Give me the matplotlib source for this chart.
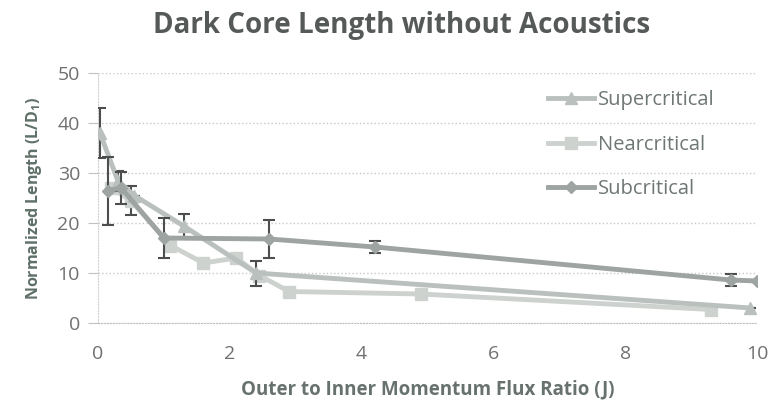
import matplotlib
matplotlib.use("Agg")
import matplotlib.pyplot as plt
from matplotlib.lines import Line2D

plt.rcParams['font.family'] = ['Open Sans', 'DejaVu Sans']

# data
super_x = [0.03, 0.3, 0.55, 1.3, 2.4, 9.9]
super_y = [38.0, 28.5, 25.5, 19.4, 10.0, 3.0]
super_err = [5.0, 2.0, 0, 2.5, 2.5, 0]

near_x = [0.2, 0.5, 1.1, 1.6, 2.1, 2.45, 2.9, 4.9, 9.3]
near_y = [27.0, 24.5, 15.5, 12.0, 13.0, 9.5, 6.3, 5.8, 2.7]
near_err = [0, 2.9, 0, 0, 0, 0, 0, 0, 0]

sub_x = [0.15, 0.35, 1.0, 2.6, 4.2, 9.6, 10.0]
sub_y = [26.5, 27.0, 17.0, 16.8, 15.2, 8.6, 8.4]
sub_err = [6.8, 3.2, 4.0, 3.8, 1.2, 1.2, 0]

names = ['Supercritical', 'Nearcritical', 'Subcritical']
colors = ['#b9c0bd', '#cdd2cf', '#9da4a1']
markers = ['^', 's', 'D']
msizes = [9, 9, 6]

xticks = [0, 2, 4, 6, 8, 10]
yticks = [0, 10, 20, 30, 40, 50]

fig = plt.figure(figsize=(7.71, 4.09), dpi=100)
ax = fig.add_axes([98/771, 1-323/409, 659/771, 250/409])

series = [(super_x, super_y, super_err), (near_x, near_y, near_err), (sub_x, sub_y, sub_err)]
zs = [3, 2, 4]
for (x, y, e), c, m, ms, z in zip(series, colors, markers, msizes, zs):
    ax.errorbar(x, y, yerr=e, color=c, lw=3.5, marker=m, ms=ms,
                ecolor='#4d4f4e', elinewidth=1.5, capsize=4, capthick=1.5, zorder=z)

ax.set_xlim(0, 10)
ax.set_ylim(0, 50)
ax.set_xticks(xticks)
ax.set_yticks(yticks)
ax.grid(axis='y', color='#c8c8c8', linestyle=':', lw=1)
for s in ['top', 'right']:
    ax.spines[s].set_visible(False)
ax.spines['left'].set_color('#d0d0d0')
ax.spines['left'].set_linestyle(':')
ax.spines['bottom'].set_color('#c0c0c0')
ax.spines['bottom'].set_linestyle(':')
ax.tick_params(axis='y', colors='#c0c0c0', labelcolor='#707070', labelsize=14, length=7, pad=6)
ax.tick_params(axis='x', length=0, labelcolor='#707070', labelsize=14, pad=16)

ax.set_xlabel('Outer to Inner Momentum Flux Ratio (J)', fontsize=13.5, fontweight='bold',
              color='#67716d', labelpad=12)
ax.set_ylabel('Normalized Length (L/D$_\\mathregular{1}$)', fontsize=11.5, fontweight='bold',
              color='#5f7068', labelpad=10)
fig.text(0.521, 1-26/409, 'Dark Core Length without Acoustics', ha='center', va='center',
         fontsize=20, fontweight='bold', color='#555a58')

handles = [Line2D([], [], color=c, lw=3.5, marker=m, ms=ms) for c, m, ms in zip(colors, markers, msizes)]
leg = fig.legend(handles, names, loc='upper left', bbox_to_anchor=(548/771, 1-90/409),
                 frameon=False, fontsize=14.5, labelspacing=1.22, handlelength=2.3,
                 handletextpad=0.2, borderpad=0, borderaxespad=0)
for t in leg.get_texts():
    t.set_color('#6e7774')

fig.savefig('out.png', dpi=100)
